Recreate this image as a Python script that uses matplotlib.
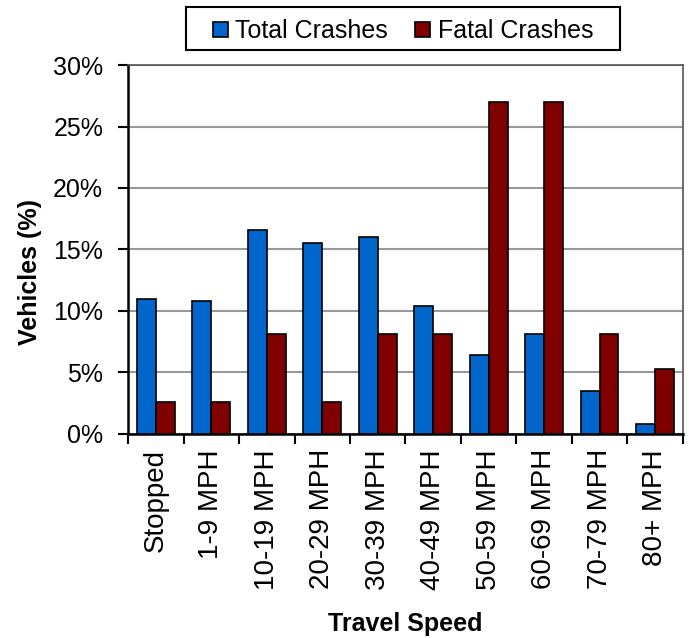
import matplotlib
matplotlib.use("Agg")
import matplotlib.pyplot as plt
from matplotlib.patches import Rectangle
import numpy as np

speeds = ["Stopped", "1-9 MPH", "10-19 MPH", "20-29 MPH", "30-39 MPH",
          "40-49 MPH", "50-59 MPH", "60-69 MPH", "70-79 MPH", "80+ MPH"]
total_crashes = [11.0, 10.8, 16.6, 15.5, 16.0, 10.4, 6.4, 8.1, 3.5, 0.8]
fatal_crashes = [2.6, 2.6, 8.1, 2.6, 8.1, 8.1, 27.0, 27.0, 8.1, 5.3]

plt.rcParams["font.family"] = ["Liberation Sans", "DejaVu Sans"]

fig = plt.figure(figsize=(6.89, 6.38), dpi=100)
ax = fig.add_axes([0.186, 0.320, 0.805, 0.578])

x = np.arange(len(speeds))
w = 0.34
b1 = ax.bar(x - w / 2, total_crashes, w, color="#0066CC", edgecolor="black",
            linewidth=1.2, label="Total Crashes", zorder=3)
b2 = ax.bar(x + w / 2, fatal_crashes, w, color="#800000", edgecolor="black",
            linewidth=1.2, label="Fatal Crashes", zorder=3)

ax.set_xlim(-0.5, len(speeds) - 0.5)
ax.set_ylim(0, 30)
ax.set_yticks(np.arange(0, 31, 5))
ax.set_yticklabels([f"{v}%" for v in range(0, 31, 5)], fontsize=18)
ax.yaxis.grid(True, color="#999999", lw=1.5, zorder=0)

# ticks at the category boundaries, labels at the centres
ax.set_xticks(np.arange(-0.5, len(speeds), 1.0))
ax.set_xticklabels([])
ax.set_xticks(x, minor=True)
ax.set_xticklabels(speeds, minor=True, rotation=90, fontsize=20)
ax.tick_params(axis="x", which="minor", length=0, pad=11)
ax.tick_params(axis="both", which="major", direction="out", length=7,
               width=1.5, color="black")
ax.tick_params(axis="y", pad=11)

for s in ("left", "bottom"):
    ax.spines[s].set_color("black")
    ax.spines[s].set_linewidth(1.8)
for s in ("top", "right"):
    ax.spines[s].set_color("#555555")
    ax.spines[s].set_linewidth(1.2)

ax.set_xlabel("Travel Speed", fontsize=18, fontweight="bold")
ax.xaxis.set_label_coords(0.5, -0.483)
ax.set_ylabel("Vehicles (%)", fontsize=18, fontweight="bold")
ax.yaxis.set_label_coords(-0.155, 0.44)

# legend frame drawn separately for the wide side padding
fig.patches.append(Rectangle((0.270, 0.9216), 0.630, 0.0674,
                             transform=fig.transFigure, fill=False,
                             edgecolor="black", linewidth=1.5))
fig.legend(handles=[b1, b2], loc="center", bbox_to_anchor=(0.585, 0.951),
           ncol=2, fontsize=18, frameon=False, handlelength=0.6,
           handleheight=0.6, handletextpad=0.3, columnspacing=1.1,
           borderpad=0.2)

fig.savefig("out.png", dpi=100)
